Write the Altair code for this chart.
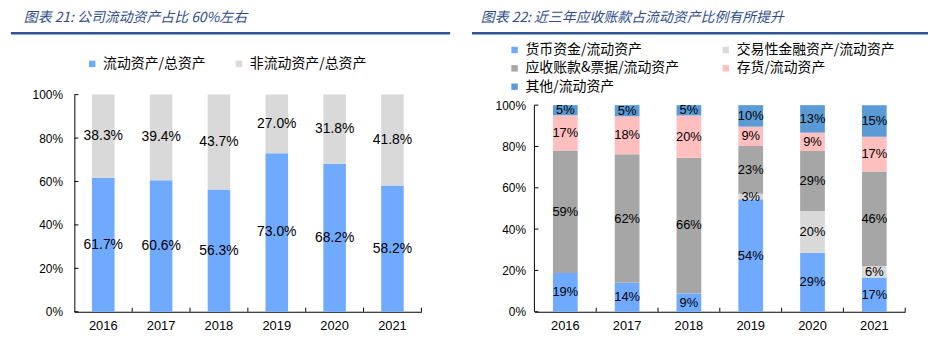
import altair as alt
import pandas as pd

# ---------------- data ----------------
years = ["2016", "2017", "2018", "2019", "2020", "2021"]

left_title = "图表 21:  公司流动资产占比 60%左右"
left_series = ["流动资产/总资产", "非流动资产/总资产"]
current_share = [61.7, 60.6, 56.3, 73.0, 68.2, 58.2]
noncurrent_share = [38.3, 39.4, 43.7, 27.0, 31.8, 41.8]
left_colors = ["#70AAFF", "#D9D9D9"]

right_title = "图表 22:  近三年应收账款占流动资产比例有所提升"
right_series = ["货币资金/流动资产", "交易性金融资产/流动资产", "应收账款&票据/流动资产",
                "存货/流动资产", "其他/流动资产"]
cash = [18.8, 14.0, 8.9, 54.4, 28.6, 16.6]
trading = [0.0, 0.0, 0.0, 2.7, 20.2, 5.6]
receivables = [59.2, 62.2, 65.7, 23.1, 29.0, 45.7]
inventory = [17.1, 18.4, 20.4, 9.4, 8.9, 16.8]
other = [4.9, 5.4, 5.0, 10.4, 13.3, 15.3]
right_colors = ["#70AAFF", "#D9D9D9", "#A6A6A6", "#FFBFBF", "#5B9BD5"]

y_ticks = [0, 20, 40, 60, 80, 100]

# ---------------- helpers ----------------
LINE_COLOR = "#2F5597"
H = 219


def long_table(series_names, columns):
    rows = []
    for idx, (name, vals) in enumerate(zip(series_names, columns)):
        for y, v in zip(years, vals):
            rows.append({"year": y, "series": name, "value": v, "idx": idx})
    return pd.DataFrame(rows)


def panel(df, series_names, colors, ydomain, width, band, fmt, label_size,
          legend_x, legend_y, legend_cols, col_pad, title, title_dx, rule_x1, rule_x2,
          ylab_pad, draw_domain_rule):
    yscale = alt.Scale(domain=ydomain, nice=False, zero=True)
    xscale = alt.Scale(paddingInner=0, paddingOuter=0)
    xenc = alt.X("year:N", scale=xscale, sort=years,
                 axis=alt.Axis(title=None, labelAngle=0, ticks=False,
                               labelPadding=8, domain=True))
    bars = alt.Chart(df).mark_bar(width=alt.RelativeBandSize(band)).encode(
        x=xenc,
        y=alt.Y("value:Q", stack="zero", scale=yscale,
                axis=alt.Axis(title=None, values=y_ticks, ticks=False,
                              labelPadding=ylab_pad, domain=not draw_domain_rule,
                              labelExpr="datum.value + '%'", grid=False,
                              labelFontSize=12)),
        color=alt.Color("series:N", sort=series_names,
                        scale=alt.Scale(domain=series_names, range=colors),
                        legend=alt.Legend(title=None, orient="none",
                                          legendX=legend_x, legendY=legend_y,
                                          direction="horizontal",
                                          columns=legend_cols,
                                          columnPadding=col_pad,
                                          rowPadding=4.5)),
        order=alt.Order("idx:Q", sort="ascending"),
    )
    labels = alt.Chart(df).transform_filter("datum.value > 0.5").transform_stack(
        stack="value", groupby=["year"], as_=["v0", "v1"],
        sort=[alt.SortField("idx", order="ascending")],
    ).transform_calculate(
        mid="(datum.v0 + datum.v1) / 2",
        label="format(datum.value, '" + fmt + "') + '%'",
    ).mark_text(font="Liberation Sans", fontSize=label_size, color="#000000").encode(
        x=alt.X("year:N", scale=xscale, sort=years),
        y=alt.Y("mid:Q", scale=yscale),
        text="label:N",
    )
    tick_df = pd.DataFrame({"tick": y_ticks})
    yt = alt.Chart(tick_df).mark_rule(color="#000000", strokeWidth=1).encode(
        x=alt.value(0), x2=alt.value(4), y=alt.Y("tick:Q", scale=yscale))
    xt = alt.Chart(pd.DataFrame({"year": years})).mark_rule(
        color="#000000", strokeWidth=1).encode(
        x=alt.X("year:N", scale=xscale, sort=years, bandPosition=1),
        y=alt.value(H), y2=alt.value(H - 4))
    layers = [bars, labels, yt, xt]
    if draw_domain_rule:
        dom = alt.Chart(pd.DataFrame({"lo": [y_ticks[0]], "hi": [y_ticks[-1]]})).mark_rule(
            color="#000000", strokeWidth=1).encode(
            x=alt.value(0), y=alt.Y("lo:Q", scale=yscale), y2="hi:Q")
        layers.append(dom)
    head = alt.Chart(pd.DataFrame({"k": [0]})).mark_rule(
        color=LINE_COLOR, strokeWidth=2.5).encode(
        x=alt.value(rule_x1), x2=alt.value(rule_x2), y=alt.value(-62))
    layers.append(head)
    return alt.layer(*layers).properties(
        width=width, height=H,
        title=alt.TitleParams(title, anchor="start", dx=title_dx, offset=7,
                              font="Noto Sans CJK SC", fontSize=14,
                              fontStyle="italic", fontWeight="normal",
                              color="#2E4C8A", frame="group"),
    )


left_df = long_table(left_series, [current_share, noncurrent_share])
right_df = long_table(right_series, [cash, trading, receivables, inventory, other])

left = panel(left_df, left_series, left_colors, [0, 100], 350, 0.39, ".1f", 14,
             11, -38, 2, 26, left_title, -51, -64, 379, 12, False)
right = panel(right_df, right_series, right_colors, [0, 105.1], 374, 0.40, ".0f", 13,
              -27, -52, 2, 39, right_title, -54, -63, 397, 9, True)

chart = alt.hconcat(left, right, spacing=18).resolve_scale(
    color="independent"
).resolve_legend(color="independent").properties(
    padding={"left": 9, "top": 9, "right": 0, "bottom": 0},
    background="#FFFFFF",
).configure_view(stroke=None).configure_axis(
    labelFont="Liberation Sans", labelFontSize=13, labelColor="#000000",
    domainColor="#000000", domainWidth=1,
).configure_legend(
    labelFont="Noto Sans CJK SC", labelFontSize=14, labelColor="#000000",
    symbolType="square", symbolSize=42, symbolStrokeWidth=0, labelLimit=300,
)

chart.save("out.html", embed_options={"renderer": "svg", "actions": False})
